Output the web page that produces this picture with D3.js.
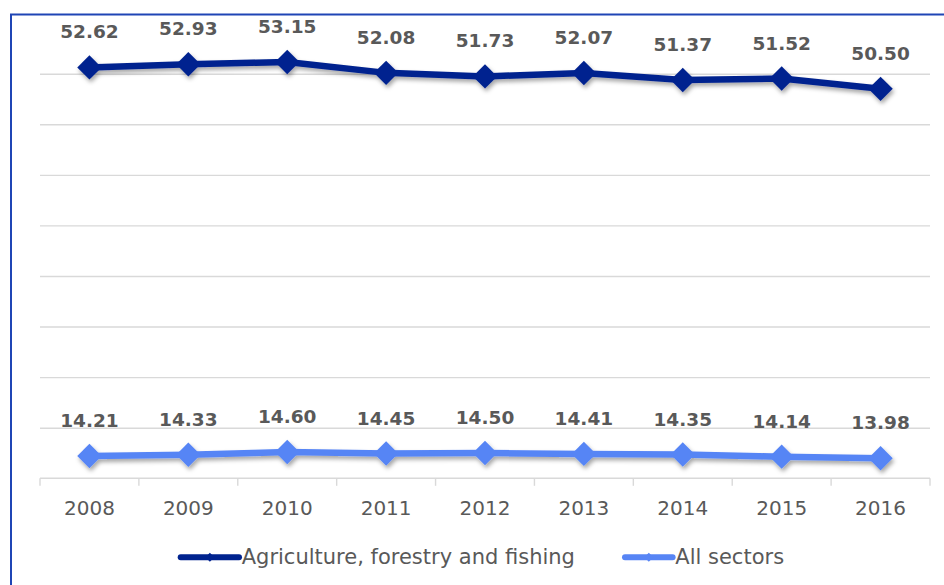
<!DOCTYPE html>
<html>
<head>
<meta charset="utf-8">
<script src="https://cdn.jsdelivr.net/npm/d3@7/dist/d3.min.js"></script>
<style>
  html, body { margin: 0; padding: 0; background: #ffffff; }
  svg { display: block; }
  text { font-family: "DejaVu Sans", Verdana, sans-serif; }
</style>
</head>
<body>
<svg id="chart" width="944" height="585"></svg>
<script>
// Years on the category axis
const years = ["2008", "2009", "2010", "2011", "2012", "2013", "2014", "2015", "2016"];
// Series values
const agriculture = [52.62, 52.93, 53.15, 52.08, 51.73, 52.07, 51.37, 51.52, 50.50];
const allSectors  = [14.21, 14.33, 14.60, 14.45, 14.50, 14.41, 14.35, 14.14, 13.98];
const seriesNames = ["Agriculture, forestry and fishing", "All sectors"];
const seriesColors = ["#00238f", "#5785f5"];
// Value axis: minimum, maximum and gridline step
const yMin = 12, yMax = 57, yStep = 5;

const svg = d3.select("#chart");
const W = 944, H = 585;

// Drop shadow used under lines and markers
const defs = svg.append("defs");
const shadow = defs.append("filter").attr("id", "shadow")
  .attr("x", "-20%").attr("y", "-50%").attr("width", "140%").attr("height", "200%");
shadow.append("feDropShadow")
  .attr("dx", 1.5).attr("dy", 3).attr("stdDeviation", 2)
  .attr("flood-color", "#000").attr("flood-opacity", 0.35);

// Outer frame (only top and left edges fall inside the view)
svg.append("rect")
  .attr("x", 11).attr("y", 14.5)
  .attr("width", W + 20).attr("height", H + 20)
  .attr("fill", "none").attr("stroke", "#1f45b5").attr("stroke-width", 2);

const plot = { left: 40, right: 930, top: 23.1, bottom: 478.3 };

const x = d3.scaleBand().domain(years).range([plot.left, plot.right]).padding(0);
const y = d3.scaleLinear().domain([yMin, yMax]).range([plot.bottom, plot.top]);

// Horizontal gridlines
const gridVals = d3.range(yMin + yStep, yMax, yStep);
svg.append("g")
  .attr("transform", `translate(${plot.left},0)`)
  .call(d3.axisLeft(y).tickValues(gridVals).tickSize(-(plot.right - plot.left)).tickFormat(""))
  .call(g => g.select(".domain").remove())
  .call(g => g.selectAll(".tick line").attr("stroke", "#d9d9d9").attr("stroke-width", 1.4));

// Category axis with tick marks between categories
const xAxis = svg.append("g").attr("transform", `translate(0,${plot.bottom})`);
xAxis.append("line")
  .attr("x1", plot.left).attr("x2", plot.right)
  .attr("stroke", "#d9d9d9").attr("stroke-width", 1.4);
const bounds = years.map(d => x(d)).concat([x(years[years.length - 1]) + x.bandwidth()]);
xAxis.selectAll("line.sep").data(bounds).join("line")
  .attr("class", "sep")
  .attr("x1", d => d).attr("x2", d => d)
  .attr("y1", 0).attr("y2", 7.5)
  .attr("stroke", "#d9d9d9").attr("stroke-width", 1.4);
xAxis.selectAll("text.year").data(years).join("text")
  .attr("class", "year")
  .attr("x", d => x(d) + x.bandwidth() / 2)
  .attr("y", 36.7)
  .attr("text-anchor", "middle")
  .attr("font-size", 20)
  .attr("fill", "#595959")
  .text(d => d);

const cx = d => x(d) + x.bandwidth() / 2;
const diamond = r => `M0,${-r}L${r},0L0,${r}L${-r},0Z`;

const seriesData = [agriculture, allSectors];

seriesData.forEach((vals, i) => {
  const pts = years.map((yr, j) => ({ yr, v: vals[j] }));
  const g = svg.append("g").attr("filter", "url(#shadow)");
  g.append("path")
    .datum(pts)
    .attr("fill", "none")
    .attr("stroke", seriesColors[i])
    .attr("stroke-width", 6.5)
    .attr("stroke-linejoin", "round")
    .attr("d", d3.line().x(d => cx(d.yr)).y(d => y(d.v)));
  g.selectAll("path.mk").data(pts).join("path")
    .attr("class", "mk")
    .attr("transform", d => `translate(${cx(d.yr)},${y(d.v)})`)
    .attr("d", diamond(12.2))
    .attr("fill", seriesColors[i]);
  svg.append("g").selectAll("text").data(pts).join("text")
    .attr("x", d => cx(d.yr))
    .attr("y", d => y(d.v) - 29)
    .attr("text-anchor", "middle")
    .attr("font-size", 18.5)
    .attr("font-weight", "bold")
    .attr("fill", "#595959")
    .text(d => d.v.toFixed(2));
});

// Legend
const legendItems = [
  { x1: 180.7, x2: 239, tx: 241.7 },
  { x1: 625, x2: 672.6, tx: 675.3 }
];
const legendY = 557.3;
const lg = svg.append("g");
legendItems.forEach((it, i) => {
  lg.append("line")
    .attr("x1", it.x1).attr("x2", it.x2)
    .attr("y1", legendY).attr("y2", legendY)
    .attr("stroke", seriesColors[i]).attr("stroke-width", 6)
    .attr("stroke-linecap", "round");
  lg.append("path")
    .attr("transform", `translate(${(it.x1 + it.x2) / 2},${legendY})`)
    .attr("d", diamond(4.5))
    .attr("fill", seriesColors[i]);
  lg.append("text")
    .attr("x", it.tx).attr("y", 564.3)
    .attr("font-size", 21)
    .attr("fill", "#595959")
    .text(seriesNames[i]);
});
</script>
</body>
</html>
